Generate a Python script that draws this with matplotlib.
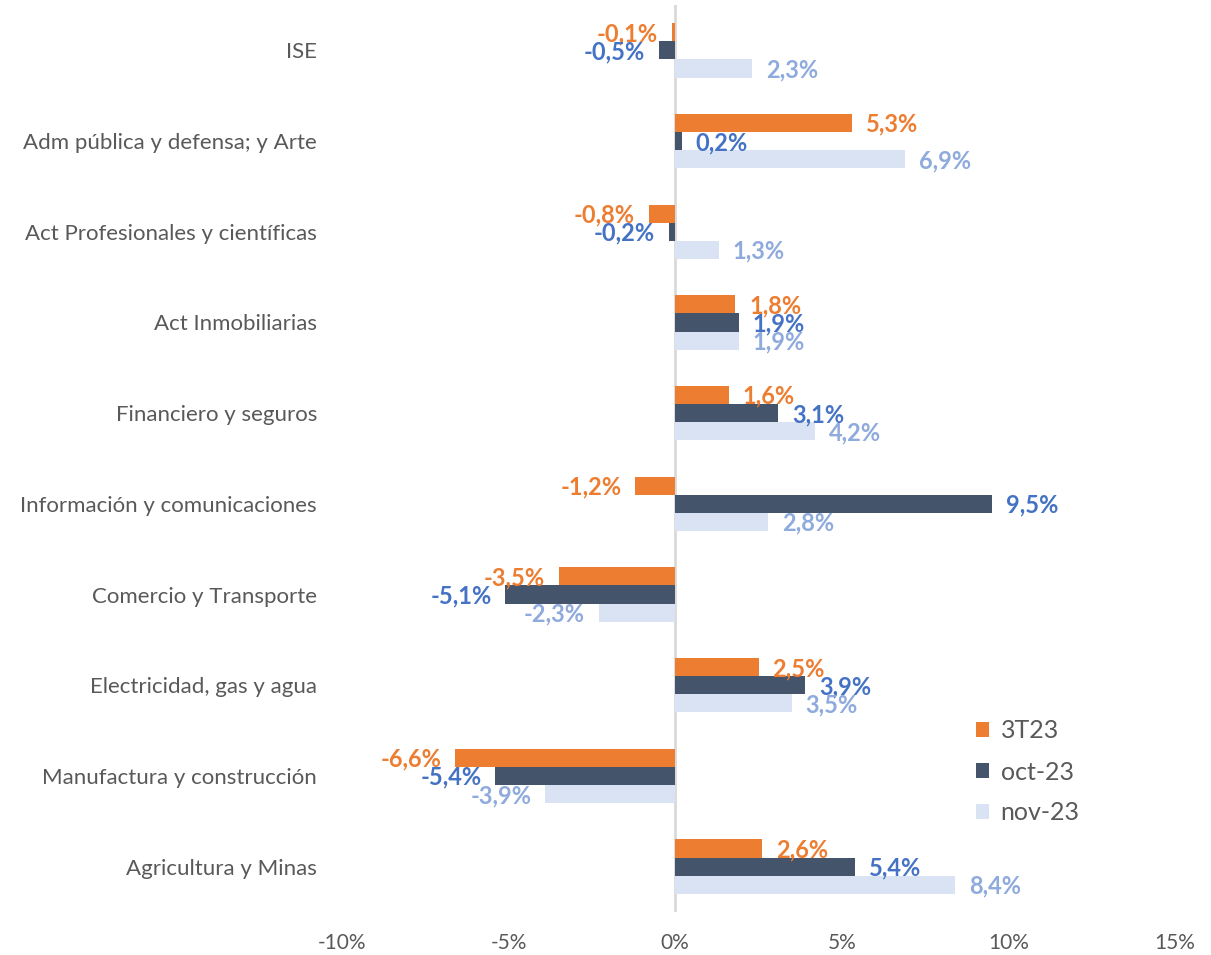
import numpy as np
import matplotlib.pyplot as plt

plt.rcParams['font.family'] = ['Lato', 'DejaVu Sans']

categories = ['Agricultura y Minas', 'Manufactura y construcción', 'Electricidad, gas y agua',
              'Comercio y Transporte', 'Información y comunicaciones', 'Financiero y seguros',
              'Act Inmobiliarias', 'Act Profesionales y científicas',
              'Adm pública y defensa; y Arte', 'ISE']
t3_23 = [2.6, -6.6, 2.5, -3.5, -1.2, 1.6, 1.8, -0.8, 5.3, -0.1]
oct_23 = [5.4, -5.4, 3.9, -5.1, 9.5, 3.1, 1.9, -0.2, 0.2, -0.5]
nov_23 = [8.4, -3.9, 3.5, -2.3, 2.8, 4.2, 1.9, 1.3, 6.9, 2.3]
series_names = ['3T23', 'oct-23', 'nov-23']

bar_colors = ['#ED7D31', '#44546A', '#DAE3F3']
label_colors = ['#ED7D31', '#4472C4', '#8FAADC']
gray = '#595959'

fig = plt.figure(figsize=(12.11, 9.55), dpi=100)
ax = fig.add_axes([342 / 1211, 1 - 912 / 955, 833 / 1211, 907 / 955])

y = np.arange(len(categories))
h = 0.2
offsets = [h, 0, -h]
for vals, name, bc, lc, off in zip([t3_23, oct_23, nov_23], series_names, bar_colors, label_colors, offsets):
    ax.barh(y + off, vals, height=h, color=bc, label=name)
    for yi, v in zip(y, vals):
        txt = f'{v:.1f}%'.replace('.', ',')
        dx = 10 if v >= 0 else -10
        ax.annotate(txt, (v, yi + off), xytext=(dx, -1), textcoords='offset points',
                    ha='left' if v >= 0 else 'right', va='center',
                    color=lc, fontsize=17, fontweight='bold')

ax.axvline(0, color='#D9D9D9', lw=2, zorder=0)
ax.set_xlim(-10, 15)
ax.set_ylim(-0.5, len(categories) - 0.5)
ax.set_xticks([-10, -5, 0, 5, 10, 15])
ax.set_xticklabels(['-10%', '-5%', '0%', '5%', '10%', '15%'])
ax.set_yticks(y)
ax.set_yticklabels(categories, fontsize=16)
ax.tick_params(axis='both', length=0, colors=gray)
ax.tick_params(axis='x', labelsize=15, pad=15)
ax.tick_params(axis='y', pad=18)
for s in ax.spines.values():
    s.set_visible(False)

ax.legend(loc='upper left', bbox_to_anchor=(953 / 1211, 1 - 697 / 955), bbox_transform=fig.transFigure,
          frameon=False, fontsize=18, labelcolor=gray, handlelength=0.55, handleheight=0.55,
          labelspacing=0.72, handletextpad=0.45)

fig.savefig('out.png', dpi=100)
